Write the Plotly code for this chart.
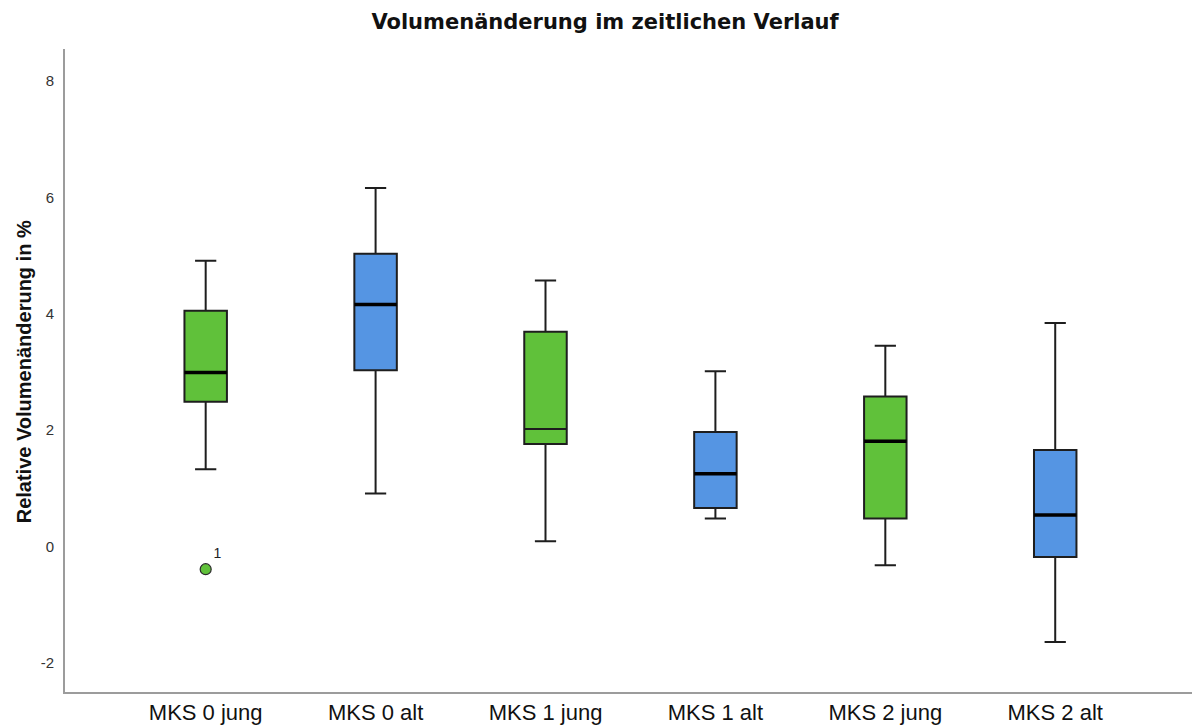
import plotly.graph_objects as go

categories = ["MKS 0 jung", "MKS 0 alt", "MKS 1 jung", "MKS 1 alt", "MKS 2 jung", "MKS 2 alt"]
lower_whisker = [1.33, 0.91, 0.09, 0.48, -0.32, -1.64]
q1_values = [2.49, 3.03, 1.76, 0.66, 0.48, -0.18]
median_values = [2.99, 4.16, 2.02, 1.25, 1.81, 0.54]
q3_values = [4.05, 5.03, 3.69, 1.97, 2.58, 1.66]
upper_whisker = [4.91, 6.16, 4.57, 3.01, 3.45, 3.84]
group_colors = ["#60C13A", "#5595E3", "#60C13A", "#5595E3", "#60C13A", "#5595E3"]
thick_median = [True, True, False, True, True, True]

outlier_category = ["MKS 0 jung"]
outlier_values = [-0.39]
outlier_labels = ["1"]

y_tick_values = [-2, 0, 2, 4, 6, 8]
y_tick_labels = ["-2", "0", "2", "4", "6", "8"]

BOX_W = 0.25

fig = go.Figure()
for i, cat in enumerate(categories):
    fig.add_trace(go.Box(
        x=[cat],
        q1=[q1_values[i]], median=[median_values[i]], q3=[q3_values[i]],
        lowerfence=[lower_whisker[i]], upperfence=[upper_whisker[i]],
        fillcolor=group_colors[i],
        line=dict(color="#1e1e1e", width=2),
        whiskerwidth=0.5,
        width=BOX_W,
        boxpoints=False,
        showlegend=False,
    ))

fig.add_trace(go.Scatter(
    x=outlier_category, y=outlier_values,
    mode="markers+text",
    marker=dict(size=11, color="#60C13A", line=dict(color="#2a2a2a", width=1.2)),
    text=outlier_labels, textposition="top right",
    textfont=dict(family="Liberation Sans, Arial, sans-serif", size=14, color="#222"),
    showlegend=False,
))

for i, cat in enumerate(categories):
    if thick_median[i]:
        fig.add_shape(type="line", xref="x", yref="y",
                      x0=i - BOX_W / 2, x1=i + BOX_W / 2,
                      y0=median_values[i], y1=median_values[i],
                      line=dict(color="#000000", width=3.5))

fig.update_layout(
    width=1192, height=727,
    margin=dict(l=65, r=0, t=49, b=35),
    paper_bgcolor="white", plot_bgcolor="white",
    boxmode="overlay",
    title=dict(text="<b>Volumenänderung im zeitlichen Verlauf</b>",
               x=0.5076, xanchor="center", y=1 - 22 / 727, yanchor="middle",
               font=dict(family="DejaVu Sans, sans-serif", size=21, color="#111")),
    font=dict(family="Liberation Sans, Arial, sans-serif", color="#222"),
)

fig.update_xaxes(
    type="category", categoryorder="array", categoryarray=categories,
    range=[-0.828, 5.805], automargin=False,
    showline=True, linecolor="#9c9c9c", linewidth=2,
    showgrid=False, zeroline=False, ticks="",
    tickfont=dict(family="Liberation Sans, Arial, sans-serif", size=22, color="#111"),
)
fig.update_yaxes(
    range=[-2.5, 8.55], automargin=False,
    tickvals=y_tick_values, ticktext=y_tick_labels,
    showline=True, linecolor="#9c9c9c", linewidth=2,
    showgrid=False, zeroline=False, ticks="",
    ticklabelstandoff=6,
    tickfont=dict(family="Liberation Sans, Arial, sans-serif", size=15, color="#333"),
)

fig.add_annotation(
    text="<b>Relative Volumenänderung in %</b>",
    xref="paper", yref="paper", x=(23.5 - 65) / 1127, y=0.498,
    xanchor="center", yanchor="middle", textangle=-90, showarrow=False,
    font=dict(family="Liberation Sans, Arial, sans-serif", size=20, color="#111"),
)

fig.write_html("out.html", config={"displayModeBar": False},
               post_script="document.body.style.margin='0';")
